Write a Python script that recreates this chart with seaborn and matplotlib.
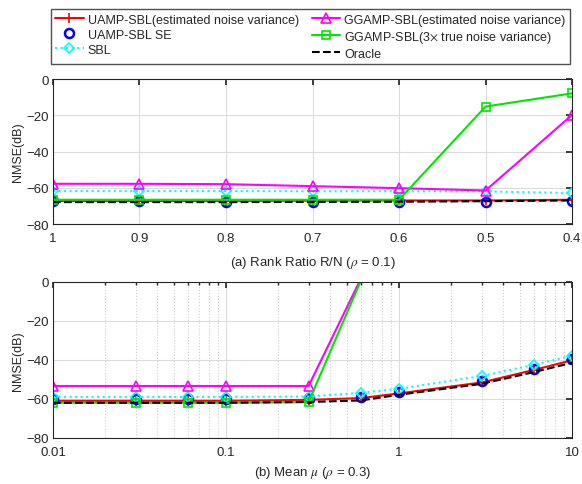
import numpy as np
import pandas as pd
import seaborn as sns
import matplotlib.pyplot as plt
from matplotlib.lines import Line2D
from matplotlib.ticker import LogLocator, NullFormatter

# ---- data: (a) rank ratio ----
ratio = [1, 0.9, 0.8, 0.7, 0.6, 0.5, 0.4]
a_uamp = [-67.3, -67.3, -67.2, -67.1, -67.0, -67.0, -66.6]
a_uamp_se = [-67.3, -67.5, -67.9, -67.7, -67.8, -67.9, -67.5]
a_sbl = [-61.8, -61.8, -61.8, -61.9, -61.9, -62.0, -62.9]
a_ggamp = [-57.8, -57.8, -58.0, -59.1, -60.2, -61.5, -19.8]
a_ggamp3 = [-66.6, -66.6, -66.6, -66.6, -66.6, -15.2, -7.9]
a_oracle = [-67.9, -67.9, -67.9, -67.8, -67.7, -67.4, -67.0]

# ---- data: (b) mean ----
mu = [0.01, 0.03, 0.06, 0.1, 0.3, 0.6, 1, 3, 6, 10]
b_uamp = [-61.0, -61.0, -61.0, -61.0, -60.5, -59.6, -57.2, -51.6, -45.2, -40.2]
b_uamp_se = [-59.9, -59.9, -59.9, -59.9, -59.7, -58.9, -56.5, -51.0, -44.6, -39.5]
b_sbl = [-59.0, -59.0, -59.0, -59.0, -58.8, -56.9, -54.8, -48.3, -42.6, -37.8]
mu_gg = [0.01, 0.03, 0.06, 0.1, 0.3, 0.6]
b_ggamp = [-53.4, -53.4, -53.4, -53.4, -53.4, 1.4]
b_ggamp3 = [-62.0, -62.0, -62.0, -62.0, -61.6, 0.3]
b_oracle = [-62.0, -62.0, -62.0, -62.0, -61.6, -60.8, -57.9, -52.3, -46.3, -41.5]

labels = ["UAMP-SBL(estimated noise variance)", "UAMP-SBL SE", "SBL",
          "GGAMP-SBL(estimated noise variance)",
          "GGAMP-SBL(3$\\times$ true noise variance)", "Oracle"]

sns.set_theme(style="white")
plt.rcParams['font.family'] = ['Liberation Sans', 'DejaVu Sans']
plt.rcParams['mathtext.fontset'] = 'stix'
plt.rcParams['font.size'] = 9

styles = [
    dict(color='#ff0000', marker='+', linestyle='-', markersize=7, mew=1.2),
    dict(color='#0000ff', marker='o', linestyle='none', markersize=6.5, mfc='none', mew=1.8),
    dict(color='#00ffff', marker='D', linestyle=':', markersize=5.5, mfc='none', mew=1.2),
    dict(color='#ff00ff', marker='^', linestyle='-', markersize=7, mfc='none', mew=1.2),
    dict(color='#00e600', marker='s', linestyle='-', markersize=6, mfc='none', mew=1.2),
    dict(color='#000000', marker=None, linestyle='--', markersize=0),
]

fig = plt.figure(figsize=(5.82, 4.85), dpi=100)
ax1 = fig.add_axes([0.091, 0.536, 0.892, 0.299])
ax2 = fig.add_axes([0.091, 0.095, 0.892, 0.322])


def draw(ax, xs, ys, hide_last=()):
    for i, (x, y, st) in enumerate(zip(xs, ys, styles)):
        extra = {}
        if i in hide_last:
            # marker centre lies above the axes, only the line is shown
            extra['markevery'] = list(range(len(x) - 1))
        sns.lineplot(x=x, y=y, ax=ax, linewidth=1.5, sort=False,
                     markeredgecolor=st['color'], **st, **extra)


draw(ax1, [ratio] * 6, [a_uamp, a_uamp_se, a_sbl, a_ggamp, a_ggamp3, a_oracle])
draw(ax2, [mu, mu, mu, mu_gg, mu_gg, mu],
     [b_uamp, b_uamp_se, b_sbl, b_ggamp, b_ggamp3, b_oracle], hide_last=(3, 4))

for ax in (ax1, ax2):
    ax.set_ylim(-80, 0)
    ax.set_yticks([-80, -60, -40, -20, 0])
    ax.set_ylabel("NMSE(dB)", fontsize=9, color='#262626', labelpad=2)
    ax.grid(True, which='major', color='#dcdcdc', linewidth=0.8)
    ax.tick_params(direction='in', top=True, right=True, length=4,
                   labelsize=9.5, colors='#262626', pad=3)
    ax.tick_params(axis='x', pad=6)
    for s in ax.spines.values():
        s.set_color('#262626')
        s.set_linewidth(0.8)
    ax.set_axisbelow(True)

ax1.set_xlim(1, 0.4)
ax1.set_xticks(ratio)
ax1.set_xticklabels(['1', '0.9', '0.8', '0.7', '0.6', '0.5', '0.4'])
ax1.set_xlabel(r"(a) Rank Ratio R/N ($\rho$ = 0.1)", fontsize=9.5, color='#262626', labelpad=7)

ax2.set_xscale('log')
ax2.set_xlim(0.01, 10)
ax2.set_xticks([0.01, 0.1, 1, 10])
ax2.set_xticklabels(['0.01', '0.1', '1', '10'])
ax2.xaxis.set_minor_locator(LogLocator(base=10, subs=np.arange(2, 10)))
ax2.xaxis.set_minor_formatter(NullFormatter())
ax2.tick_params(which='minor', direction='in', top=True, length=2.5, colors='#262626')
ax2.grid(True, which='minor', axis='x', color='#cfcfcf', linestyle=':', linewidth=0.8)
ax2.set_xlabel(r"(b) Mean $\mu$ ($\rho$ = 0.3)", fontsize=9.5, color='#262626', labelpad=4)

for ax in (ax1, ax2):
    if ax.get_legend():
        ax.get_legend().remove()

handles = [Line2D([], [], linewidth=1.5, markeredgecolor=st['color'], **st) for st in styles]
fig.legend(handles, labels, ncol=2, loc='upper left',
           bbox_to_anchor=(0.087, 0.979, 0.892, 0.0), mode='expand',
           fontsize=9, frameon=True, fancybox=False, edgecolor='#262626',
           borderpad=0.35, labelspacing=0.25, handlelength=2.3, handletextpad=0.3,
           columnspacing=0.4, borderaxespad=0)

fig.savefig('out.png', dpi=100)
plt.close(fig)
